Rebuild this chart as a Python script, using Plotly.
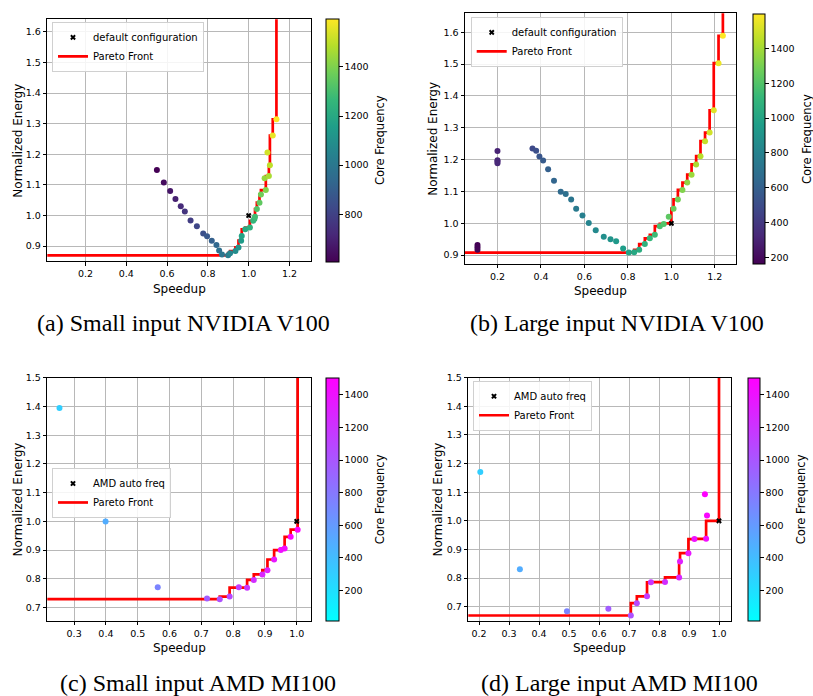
import plotly.graph_objects as go

W, H = 813, 696

# ---- (a) small input, NVIDIA V100 ----
speedup_a = [0.550, 0.584, 0.615, 0.641, 0.667, 0.687, 0.715, 0.746, 0.777, 0.796,
             0.819, 0.842, 0.855, 0.869, 0.899, 0.909, 0.935, 0.950, 0.963, 0.966,
             0.983, 1.006, 1.022, 1.028, 1.031, 1.040, 1.053, 1.060, 1.084, 1.078,
             1.099, 1.104, 1.092, 1.118, 1.136]
energy_a = [1.149, 1.108, 1.080, 1.054, 1.030, 1.013, 0.984, 0.965, 0.941, 0.932,
            0.918, 0.904, 0.886, 0.873, 0.870, 0.877, 0.884, 0.896, 0.918, 0.933,
            0.955, 0.961, 0.983, 0.989, 0.996, 1.021, 1.042, 1.069, 1.083, 1.122,
            1.129, 1.164, 1.206, 1.261, 1.314]
freq_a = [607, 637, 667, 697, 727, 757, 787, 817, 847, 877,
          907, 937, 967, 997, 1027, 1057, 1087, 1117, 1147, 1177,
          1207, 1237, 1252, 1267, 1290, 1320, 1350, 1380, 1410, 1440,
          1470, 1500, 1530, 1567, 1597]

# ---- (b) large input, NVIDIA V100 ----
speedup_b = [0.108, 0.108, 0.108, 0.200, 0.200, 0.200, 0.200,
             0.361, 0.378, 0.393, 0.410, 0.433, 0.460, 0.491, 0.514, 0.539, 0.562,
             0.591, 0.620, 0.652, 0.689, 0.720, 0.746, 0.778, 0.804, 0.829, 0.852,
             0.878, 0.901, 0.924, 0.947, 0.965, 0.988, 1.010, 1.030, 1.051, 1.073,
             1.093, 1.114, 1.134, 1.155, 1.176, 1.195, 1.217, 1.237]
energy_b = [0.932, 0.925, 0.917, 1.227, 1.198, 1.194, 1.189,
            1.235, 1.228, 1.210, 1.197, 1.170, 1.134, 1.099, 1.092, 1.075, 1.046,
            1.025, 1.001, 0.978, 0.958, 0.950, 0.944, 0.921, 0.908, 0.909, 0.917,
            0.935, 0.953, 0.964, 0.991, 0.998, 1.021, 1.046, 1.075, 1.105, 1.128,
            1.153, 1.185, 1.211, 1.258, 1.285, 1.355, 1.503, 1.589]
freq_b = [160, 167, 175, 300, 307, 315, 322,
          480, 510, 540, 570, 600, 630, 660, 690, 720, 750,
          780, 810, 840, 870, 900, 930, 960, 990, 1020, 1050,
          1080, 1110, 1140, 1170, 1200, 1230, 1260, 1290, 1320, 1350,
          1380, 1410, 1440, 1470, 1500, 1530, 1560, 1597]

# ---- (c) small input, AMD MI100 ----
speedup_c = [0.254, 0.399, 0.563, 0.718, 0.758, 0.789, 0.818, 0.844,
             0.865, 0.892, 0.908, 0.929, 0.950, 0.962, 0.981, 1.003]
energy_c = [1.395, 0.999, 0.770, 0.731, 0.729, 0.738, 0.770, 0.769,
            0.796, 0.815, 0.830, 0.867, 0.900, 0.905, 0.946, 0.971]
freq_c = [300, 495, 731, 962, 1029, 1087, 1147, 1189,
          1235, 1283, 1319, 1363, 1404, 1430, 1472, 1502]

# ---- (d) large input, AMD MI100 ----
speedup_d = [0.204, 0.336, 0.493, 0.631, 0.706, 0.726, 0.760, 0.773,
             0.820, 0.867, 0.870, 0.898, 0.918, 0.957, 0.960, 0.953]
energy_d = [1.171, 0.831, 0.684, 0.693, 0.669, 0.712, 0.736, 0.785,
            0.786, 0.802, 0.858, 0.887, 0.936, 0.937, 1.019, 1.093]
freq_d = [300, 495, 731, 962, 1029, 1087, 1147, 1189,
          1235, 1283, 1319, 1363, 1404, 1430, 1472, 1502]

# reference run (default / auto clock) sits at (1, 1) by normalisation
ref_speedup = 1.0
ref_energy = 1.0

captions = ["(a) Small input NVIDIA V100", "(b) Large input NVIDIA V100",
            "(c) Small input AMD MI100", "(d) Large input AMD MI100"]
ref_labels = ["default configuration", "default configuration",
              "AMD auto freq", "AMD auto freq"]


def pareto_front(sp, en):
    """Non-dominated points (higher speedup, lower energy), sorted by speedup."""
    pts = sorted(zip(sp, en), key=lambda p: (-p[0], p[1]))
    front, best = [], float("inf")
    for x, y in pts:
        if y < best:
            front.append((x, y))
            best = y
    front.reverse()
    return [p[0] for p in front], [p[1] for p in front]


def px_x(v):
    return v / W


def px_y(v):
    return 1 - v / H


FONT = "DejaVu Sans"
COOL = [[0, "#00ffff"], [1, "#ff00ff"]]

# pixel geometry of each panel: plot box, x/y ranges, colorbar box, legend corner
panels = [
    dict(data=(speedup_a, energy_a, freq_a), box=(47.3, 310.7, 13.3, 257.7),
         xr=[0.0127, 1.304], yr=[0.850, 1.641], xt=0.2, yt=0.1,
         cb=(326, 339.3, 12.7, 257.7), cscale="Viridis", crange=None,
         leg=(52, 16), ylab_x=18.3, cblab_x=380),
    dict(data=(speedup_b, energy_b, freq_b), box=(465, 735.7, 7.3, 260),
         xr=[0.0506, 1.296], yr=[0.873, 1.660], xt=0.2, yt=0.1,
         cb=(752.7, 765, 8.3, 260), cscale="Viridis", crange=None,
         leg=(470.7, 11), ylab_x=433.3, cblab_x=807),
    dict(data=(speedup_c, energy_c, freq_c), box=(47.3, 310.7, 375, 620),
         xr=[0.2157, 1.044], yr=[0.654, 1.5], xt=0.1, yt=0.1,
         cb=(326, 339.3, 375, 620), cscale=COOL, crange=(15, 1505),
         leg=(52, 466), ylab_x=18.3, cblab_x=380),
    dict(data=(speedup_d, energy_d, freq_d), box=(468.3, 731, 375, 620),
         xr=[0.164, 1.04], yr=[0.651, 1.5], xt=0.1, yt=0.1,
         cb=(747.7, 760, 375, 620), cscale=COOL, crange=(15, 1505),
         leg=(473, 378), ylab_x=438.3, cblab_x=801),
]

fig = go.Figure()
layout = dict(width=W, height=H, margin=dict(l=0, r=0, t=0, b=0),
              paper_bgcolor="white", plot_bgcolor="white",
              font=dict(family=FONT, color="black", size=10),
              annotations=[])
caption_pos = [(183, 320), (617, 320), (198, 683), (619, 683)]

for i, p in enumerate(panels, start=1):
    sfx = "" if i == 1 else str(i)
    xa, ya = "x" + sfx, "y" + sfx
    ca = "coloraxis" + sfx
    lg = "legend" + sfx
    sp, en, fr = p["data"]
    x0, x1, y0, y1 = p["box"]

    fx, fy = pareto_front(sp + [ref_speedup], en + [ref_energy])
    fig.add_trace(go.Scatter(
        x=[0.0] + fx + [fx[-1]], y=[fy[0]] + fy + [10.0],
        mode="lines", line=dict(color="#ff0000", width=2.7, shape="vh"),
        name="Pareto Front", xaxis=xa, yaxis=ya, legend=lg, legendrank=2))
    fig.add_trace(go.Scatter(
        x=sp, y=en, mode="markers",
        marker=dict(color=fr, coloraxis=ca, size=6, line=dict(width=0)),
        showlegend=False, xaxis=xa, yaxis=ya, hoverinfo="x+y"))
    fig.add_trace(go.Scatter(
        x=[ref_speedup], y=[ref_energy], mode="markers",
        marker=dict(symbol="x", color="black", size=5, line=dict(width=0)),
        name=ref_labels[i - 1], xaxis=xa, yaxis=ya, legend=lg, legendrank=1))

    axis_common = dict(showline=True, linecolor="black", linewidth=1, mirror=True,
                       ticks="outside", ticklen=3.5, tickwidth=1, tickcolor="black",
                       showgrid=True, gridcolor="#b8b8b8", gridwidth=1,
                       zeroline=False, tickformat=".1f",
                       tickfont=dict(family=FONT, size=9.5, color="black"))
    layout["xaxis" + sfx] = dict(axis_common, domain=[px_x(x0), px_x(x1)],
                                 range=p["xr"], dtick=p["xt"], tick0=0,
                                 anchor=ya)
    layout["yaxis" + sfx] = dict(axis_common, domain=[px_y(y1), px_y(y0)],
                                 range=p["yr"], dtick=p["yt"], tick0=0,
                                 anchor=xa)

    cx0, cx1, cy0, cy1 = p["cb"]
    cax = dict(colorscale=p["cscale"],
               colorbar=dict(x=px_x(cx0), xanchor="left", xpad=0,
                             y=px_y(cy0), yanchor="top", ypad=0,
                             len=(cy1 - cy0) / H, lenmode="fraction",
                             thickness=cx1 - cx0, thicknessmode="pixels",
                             outlinewidth=1, outlinecolor="black",
                             ticks="outside", ticklen=3.5, tickcolor="black",
                             tick0=0, dtick=200,
                             tickfont=dict(family=FONT, size=9.5, color="black")))
    if p["crange"]:
        cax["cmin"], cax["cmax"] = p["crange"]
    layout[ca] = cax

    lx, ly = p["leg"]
    layout[lg] = dict(x=px_x(lx), y=px_y(ly), xanchor="left", yanchor="top",
                      bgcolor="rgba(255,255,255,0.85)", bordercolor="#d0d0d0",
                      borderwidth=1, font=dict(family=FONT, size=10, color="black"),
                      itemwidth=30, tracegroupgap=0)

    ann = layout["annotations"]
    ann.append(dict(text="Speedup", x=px_x((x0 + x1) / 2), y=px_y(y1 + 27.5),
                    xref="paper", yref="paper", showarrow=False,
                    font=dict(family=FONT, size=12), xanchor="center", yanchor="middle"))
    ann.append(dict(text="Normalized Energy", x=px_x(p["ylab_x"]), y=px_y((y0 + y1) / 2),
                    xref="paper", yref="paper", showarrow=False, textangle=-90,
                    font=dict(family=FONT, size=12), xanchor="center", yanchor="middle"))
    ann.append(dict(text="Core Frequency", x=px_x(p["cblab_x"]), y=px_y((cy0 + cy1) / 2),
                    xref="paper", yref="paper", showarrow=False, textangle=-90,
                    font=dict(family=FONT, size=11.5), xanchor="center", yanchor="middle"))
    cxp, cyp = caption_pos[i - 1]
    ann.append(dict(text=captions[i - 1], x=px_x(cxp), y=px_y(cyp),
                    xref="paper", yref="paper", showarrow=False,
                    font=dict(family="Liberation Serif", size=24, color="black"),
                    xanchor="center", yanchor="middle"))

fig.update_layout(**layout)
fig.write_html("out.html")
